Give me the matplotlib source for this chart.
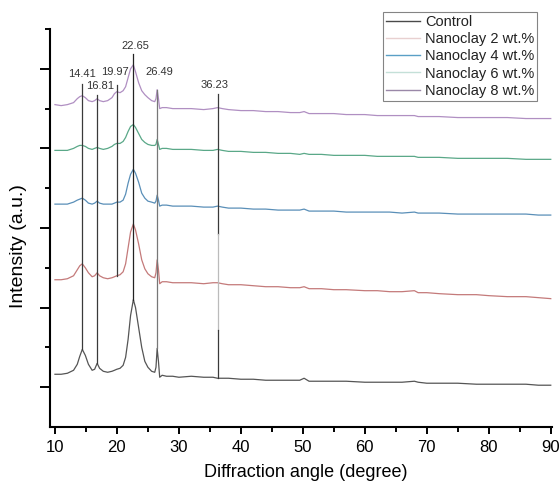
import matplotlib
matplotlib.use("Agg")
import matplotlib.pyplot as plt
from matplotlib.ticker import MultipleLocator, FixedLocator
from matplotlib.lines import Line2D

plt.rcParams['font.family'] = ['Liberation Sans', 'DejaVu Sans']

# 2-theta sample positions (degree)
angle = [10, 11, 12, 13, 13.6, 14.0, 14.41, 14.9, 15.4, 16.0, 16.4, 16.81, 17.2, 17.8,
         18.5, 19.2, 19.6, 19.97, 20.5, 21.0, 21.4, 21.8, 22.2, 22.65, 23.0, 23.5,
         24.0, 24.5, 25.0, 25.6, 26.1, 26.3, 26.49, 26.7, 26.9, 27.3, 28, 29, 30,
         32, 34, 35.5, 36.23, 37, 38, 40, 42, 44, 46, 48, 49.5, 50.2, 51, 53, 55, 57,
         60, 62, 64, 66, 68, 68.6, 70, 72, 75, 78, 80, 83, 86, 88, 90]

# Intensity (a.u.), offset traces
control = [53, 53, 54, 57, 63, 71, 78, 72, 63, 57, 58, 64, 59, 56,
           55, 56, 57, 58, 59, 62, 70, 88, 112, 128, 120, 100,
           80, 66, 60, 56, 55, 60, 79, 66, 50, 52, 51, 51, 50,
           51, 50, 50, 49, 49, 49, 48, 48, 47, 47, 47, 47, 49, 46, 46, 46, 46,
           45, 45, 45, 45, 46, 45, 44, 44, 44, 43, 43, 43, 43, 42, 42]
nano2 = [148, 148, 149, 152, 158, 162, 164, 160, 155, 151, 152, 155, 152, 150,
         149, 150, 151, 152, 153, 156, 164, 180, 196, 204, 198, 184,
         168, 159, 154, 151, 150, 155, 168, 158, 144, 146, 146, 145, 145,
         145, 144, 145, 145, 144, 143, 143, 142, 141, 141, 140, 140, 141, 139, 139, 138, 138,
         137, 137, 136, 136, 137, 135, 135, 134, 133, 133, 132, 131, 131, 130, 129]
nano4 = [224, 224, 224, 226, 228, 229, 230, 228, 225, 224, 225, 227, 225, 224,
         224, 224, 225, 226, 226, 228, 234, 245, 254, 259, 255, 246,
         235, 230, 227, 226, 225, 227, 233, 228, 222, 223, 223, 222, 222,
         222, 221, 221, 222, 221, 220, 220, 219, 219, 218, 218, 218, 219, 217, 217, 217, 216,
         216, 216, 216, 215, 216, 215, 215, 215, 214, 214, 214, 214, 214, 213, 213]
nano6 = [278, 278, 278, 280, 282, 283, 283, 282, 280, 279, 280, 281, 280, 279,
         280, 282, 284, 285, 285, 287, 291, 297, 302, 304, 301, 295,
         289, 286, 284, 283, 283, 284, 289, 284, 279, 280, 280, 279, 279,
         279, 278, 278, 279, 278, 277, 277, 276, 276, 275, 275, 274, 275, 274, 274, 273, 273,
         273, 272, 272, 272, 272, 271, 271, 271, 270, 270, 270, 270, 269, 269, 269]
nano8 = [324, 323, 324, 326, 330, 332, 333, 331, 328, 327, 328, 330, 328, 327,
         328, 331, 335, 337, 336, 338, 342, 351, 360, 364, 357, 346,
         338, 334, 331, 328, 327, 330, 339, 330, 320, 321, 321, 320, 320,
         320, 319, 320, 321, 320, 319, 318, 318, 317, 317, 316, 316, 317, 315, 315, 315, 314,
         314, 313, 313, 313, 313, 312, 312, 312, 311, 311, 311, 311, 310, 310, 310]

series = [control, nano2, nano4, nano6, nano8]
names = ["Control", "Nanoclay 2 wt.%", "Nanoclay 4 wt.%", "Nanoclay 6 wt.%", "Nanoclay 8 wt.%"]
colors = ["#555555", "#c47a7a", "#5a8fb8", "#5aa888", "#b08fc2"]
legend_colors = ["#4a4a4a", "#e8d0d0", "#5a9fc6", "#c4e0d8", "#9a88a8"]

# Peak markers
peak_angle = [14.41, 16.81, 19.97, 22.65, 26.49, 36.23]
peak_label = ["14.41", "16.81", "19.97", "22.65", "26.49", "36.23"]
peak_top = [345, 334, 344, 375, 339, 335]
peak_bottom = [78, 64, 152, 128, 79, 49]
peak_color = ["#3a3a3a", "#3a3a3a", "#3a3a3a", "#222222", "#777777", "#3a3a3a"]
label_x = [14.41, 17.3, 19.7, 22.9, 26.8, 35.8]
label_y = [350, 338, 352, 378, 352, 339]

fig = plt.figure(figsize=(5.6, 4.84), dpi=100)
ax = fig.add_axes([50/560, 57/484, 502/560, 398/484])

for y, c in zip(series, colors):
    ax.plot(angle, y, color=c, lw=0.9)

for a, t, b, c in zip(peak_angle, peak_top, peak_bottom, peak_color):
    if a == 36.23:
        ax.plot([a, a], [194, t], color=c, lw=0.9)
        ax.plot([a, a], [97, 194], color="#bbbbbb", lw=0.9)
        ax.plot([a, a], [b, 97], color=c, lw=0.9)
    else:
        ax.plot([a, a], [b, t], color=c, lw=0.9)
for lx, ly, lab in zip(label_x, label_y, peak_label):
    ax.text(lx, ly, lab, ha="center", va="bottom", fontsize=8, color="#333333")

ax.set_xlim(9.2, 90.2)
ax.set_ylim(0, 400)
ax.xaxis.set_major_locator(MultipleLocator(10))
ax.xaxis.set_minor_locator(MultipleLocator(5))
ax.yaxis.set_major_locator(FixedLocator([40, 120, 200, 280, 360]))
ax.yaxis.set_minor_locator(FixedLocator([80, 160, 240, 320, 400]))
ax.set_yticklabels([])
ax.tick_params(axis="x", which="major", direction="out", length=5, width=1.4, labelsize=12, pad=4)
ax.tick_params(axis="x", which="minor", direction="out", length=3.5, width=1.4)
ax.tick_params(axis="y", which="major", direction="out", length=7, width=1.4)
ax.tick_params(axis="y", which="minor", direction="out", length=3.5, width=1.4)
for s in ["top", "right"]:
    ax.spines[s].set_visible(False)
for s in ["left", "bottom"]:
    ax.spines[s].set_linewidth(1.5)

ax.set_xlabel("Diffraction angle (degree)", fontsize=13)
ax.xaxis.set_label_coords(0.509, -0.093)
ax.set_ylabel("Intensity (a.u.)", fontsize=14)
ax.yaxis.set_label_coords(-0.045, 0.455)

handles = [Line2D([], [], color=c, lw=1.0) for c in legend_colors]
leg = ax.legend(handles, names, loc="upper right", bbox_to_anchor=(537/560, 1 - 12/484),
                bbox_transform=fig.transFigure,
                fontsize=10.5, frameon=True, fancybox=False, edgecolor="#666666",
                handlelength=2.3, handletextpad=0.35, borderpad=0.2, labelspacing=0.22,
                borderaxespad=0)
leg.get_frame().set_linewidth(0.8)
for t in leg.get_texts():
    t.set_color("#222222")

fig.savefig("out.png", dpi=100)
